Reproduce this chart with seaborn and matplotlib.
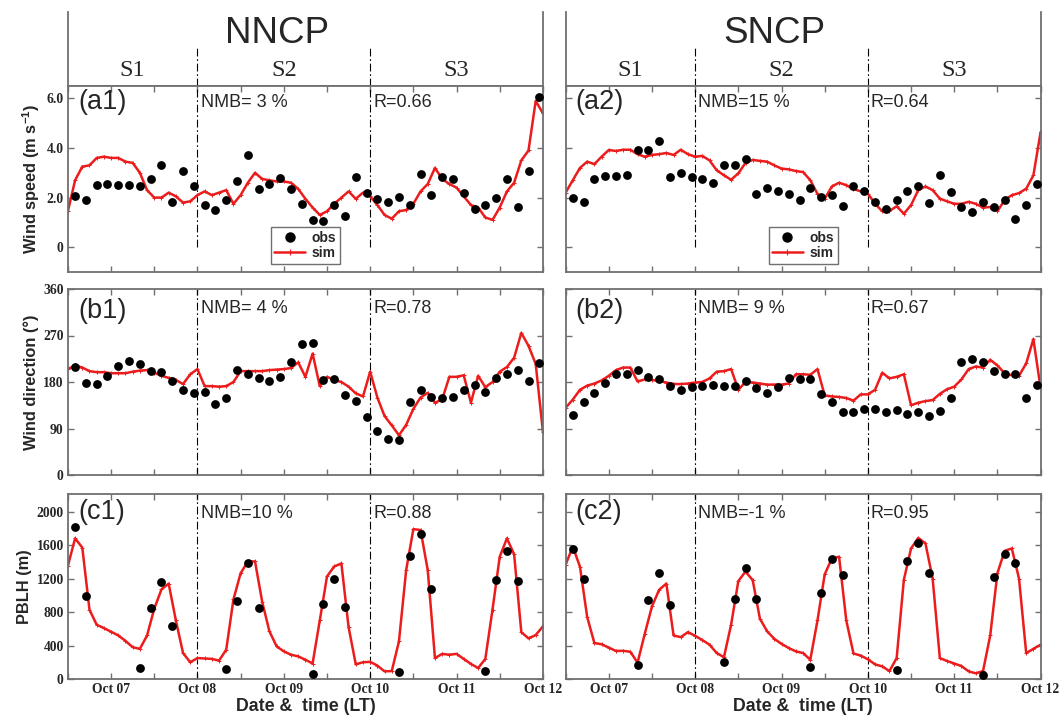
import numpy as np
import pandas as pd
import matplotlib
matplotlib.use("Agg")
import matplotlib.pyplot as plt
from matplotlib.lines import Line2D
import seaborn as sns

# ---------------- data (hours after Oct 06 12:00 LT) ----------------
regions = ["NNCP", "SNCP"]
stage_names = ["S1", "S2", "S3"]
stage_edges = [0, 36, 84, 132]
day_tick_hours = [12, 36, 60, 84, 108, 132]
day_tick_labels = ["Oct 07", "Oct 08", "Oct 09", "Oct 10", "Oct 11", "Oct 12"]

obs_hours = list(range(2, 132, 3))          # 3-hourly observations
sim_hours = list(range(0, 133, 2))          # model output
pblh_obs_hours = [2, 5, 20, 23, 26, 29, 44, 47, 50, 53, 68, 71, 74, 77,
                  92, 95, 98, 101, 116, 119, 122, 125]

ws_ticks = [0, 2, 4, 6]
ws_tick_labels = ["0", "2.0", "4.0", "6.0"]
wd_ticks = [0, 90, 180, 270, 360]
wd_tick_labels = ["0", "90", "180", "270", "360"]
pblh_ticks = [0, 400, 800, 1200, 1600, 2000]
pblh_tick_labels = ["0", "400", "800", "1200", "1600", "2000"]

# wind speed (m/s)
ws_obs_nncp = [2.05, 1.92, 2.49, 2.56, 2.52, 2.52, 2.46, 2.76, 3.32, 1.81, 3.07, 2.45,
               1.71, 1.50, 1.89, 2.68, 3.70, 2.34, 2.53, 2.81, 2.34, 1.74, 1.08, 1.06,
               1.71, 1.27, 2.84, 2.20,
               1.93, 1.82, 2.01, 1.71, 2.95, 2.09, 2.85, 2.76, 2.18, 1.54, 1.71, 1.97,
               2.73, 1.62, 3.07, 6.04]
ws_sim_nncp = [1.45, 2.7, 3.25, 3.3, 3.6, 3.65, 3.6, 3.6, 3.45, 3.4,
               3.0, 2.3, 2.0, 2.0, 2.2, 2.05, 1.8, 1.85, 2.1, 2.25,
               2.1, 2.2, 2.3, 1.75, 2.1, 2.6, 3.0, 2.75, 2.7, 2.65,
               2.65, 2.6, 2.35, 1.95, 1.6, 1.3, 1.45, 1.75, 2.0, 2.25,
               1.95, 2.2, 2.05, 1.7, 1.3, 1.15, 1.45, 1.5, 1.75, 2.25,
               2.55, 3.2, 2.75, 2.55, 2.4, 2.05, 1.7, 1.6, 1.2, 1.1,
               1.6, 2.25, 2.6, 3.5, 3.9, 5.9, 5.4]
ws_obs_sncp = [1.99, 1.83, 2.77, 2.86, 2.86, 2.90, 3.91, 3.91, 4.30, 2.83, 2.99, 2.83,
               2.75, 2.58, 3.30, 3.33, 3.56, 2.16, 2.39, 2.28, 2.13, 1.89, 2.39, 2.03,
               2.09, 1.68, 2.47, 2.28,
               1.81, 1.53, 1.89, 2.25, 2.48, 1.80, 2.90, 2.24, 1.62, 1.41, 1.81, 1.62,
               1.92, 1.14, 1.72, 2.55]
ws_sim_sncp = [2.2, 2.7, 3.2, 3.45, 3.35, 3.65, 3.92, 3.88, 3.93, 3.93,
               3.75, 3.65, 3.72, 3.75, 3.8, 3.72, 3.93, 3.75, 3.65, 3.68,
               3.5, 3.1, 2.9, 2.72, 2.98, 3.4, 3.52, 3.48, 3.45, 3.3,
               3.17, 3.14, 3.07, 3.03, 2.7, 2.15, 1.95, 2.45, 2.6, 2.5,
               2.35, 2.25, 2.16, 1.75, 1.45, 1.46, 1.65, 1.35, 1.7, 2.3,
               2.45, 2.3, 1.96, 1.85, 1.75, 1.75, 1.83, 1.75, 1.6, 1.62,
               1.45, 1.9, 2.1, 2.18, 2.36, 2.9, 4.64]

# wind direction (deg)
wd_obs_nncp = [210, 179, 177, 192, 211, 221, 214, 201, 199, 182, 164, 159,
               161, 138, 149, 203, 196, 187, 182, 190, 219, 253, 255, 183,
               185, 155, 144, 112,
               86, 70, 67, 141, 164, 151, 149, 151, 164, 175, 161, 187,
               195, 203, 182, 216]
wd_sim_nncp = [205, 212, 208, 201, 199, 199, 197, 197, 197, 200,
               202, 203, 198, 192, 188, 184, 176, 195, 205, 172,
               172, 171, 172, 180, 201, 201, 201, 201, 203, 204,
               205, 207, 218, 190, 235, 172, 190, 184, 180, 171,
               158, 152, 200, 150, 114, 96, 77, 97, 128, 150,
               159, 140, 146, 190, 190, 193, 140, 192, 170, 180,
               200, 209, 227, 275, 250, 215, 84]
wd_obs_sncp = [116, 141, 159, 179, 196, 196, 203, 190, 185, 172, 164, 171,
               173, 175, 173, 173, 182, 169, 159, 171, 187, 185, 185, 156,
               142, 122, 122, 127,
               127, 122, 125, 119, 122, 114, 123, 149, 219, 224, 219, 201,
               196, 196, 149, 175]
wd_sim_sncp = [130, 146, 165, 173, 177, 183, 192, 203, 208, 208,
               181, 185, 184, 182, 179, 176, 176, 177, 179, 180,
               187, 200, 201, 205, 165, 180, 179, 177, 175, 175,
               175, 177, 195, 195, 194, 205, 154, 152, 151, 149,
               144, 156, 156, 165, 198, 187, 190, 195, 135, 140,
               143, 145, 157, 166, 171, 185, 205, 210, 208, 223,
               212, 197, 193, 192, 216, 263, 168]

# PBLH (m)
pblh_obs_nncp = [1821, 994, 127, 847, 1157, 636, 119, 926, 1384, 847, 60, 895,
                 1193, 859, 80, 1471, 1734, 1073, 91, 1185, 1535, 1165]
pblh_sim_nncp = [1352, 1680, 1570, 827, 648, 608, 565, 520, 455, 380,
                 360, 520, 840, 1070, 1140, 700, 310, 200, 250, 245,
                 240, 220, 350, 950, 1264, 1403, 1405, 920, 570, 390,
                 330, 290, 270, 230, 185, 700, 1225, 1344, 1380, 620,
                 175, 200, 205, 160, 91, 95, 450, 1300, 1790, 1780,
                 1300, 250, 300, 290, 300, 240, 180, 131, 240, 830,
                 1460, 1680, 1490, 560, 485, 525, 628]
pblh_obs_sncp = [1551, 1193, 171, 938, 1264, 883, 199, 958, 1324, 958, 139, 1026,
                 1435, 1245, 103, 1404, 1622, 1272, 52, 1217, 1495, 1384]
pblh_sim_sncp = [1364, 1582, 1340, 740, 430, 415, 375, 335, 337, 325,
                 195, 540, 867, 1066, 1140, 520, 500, 560, 515, 465,
                 410, 310, 260, 650, 1170, 1284, 1180, 720, 570, 480,
                 420, 370, 330, 310, 230, 700, 1250, 1440, 1460, 700,
                 305, 280, 235, 175, 150, 95, 250, 1185, 1560, 1685,
                 1620, 1200, 250, 215, 185, 155, 91, 68, 95, 520,
                 1264, 1530, 1560, 1200, 310, 360, 410]

panel_tags = [["(a1)", "(b1)", "(c1)"], ["(a2)", "(b2)", "(c2)"]]
nmb_texts = [["NMB= 3 %", "NMB= 4 %", "NMB=10 %"], ["NMB=15 %", "NMB= 9 %", "NMB=-1 %"]]
r_texts = [["R=0.66", "R=0.78", "R=0.88"], ["R=0.64", "R=0.67", "R=0.95"]]

series = {
    "NNCP": [(obs_hours, ws_obs_nncp, ws_sim_nncp),
             (obs_hours, wd_obs_nncp, wd_sim_nncp),
             (pblh_obs_hours, pblh_obs_nncp, pblh_sim_nncp)],
    "SNCP": [(obs_hours, ws_obs_sncp, ws_sim_sncp),
             (obs_hours, wd_obs_sncp, wd_sim_sncp),
             (pblh_obs_hours, pblh_obs_sncp, pblh_sim_sncp)],
}
row_ylims = [(-1.0, 6.5), (0, 360), (0, 2210)]
row_ticks = [(ws_ticks, ws_tick_labels), (wd_ticks, wd_tick_labels),
             (pblh_ticks, pblh_tick_labels)]
row_ylabels = ["Wind speed (m s$^{\\mathbf{-1}}$)", "Wind direction (°)", "PBLH (m)"]

# ---------------- style ----------------
sns.set_theme(style="ticks")
plt.rcParams["font.family"] = ["Liberation Sans", "DejaVu Sans"]
plt.rcParams["mathtext.fontset"] = "custom"
plt.rcParams["mathtext.rm"] = "Liberation Sans"
plt.rcParams["mathtext.bf"] = "Liberation Sans:bold"

RED = "#ec1c1c"
SPINE = "#707070"
SERIF = "Liberation Serif"
DASHDOT = (0, (7, 2.5, 1.5, 2.5))

W, H = 1062, 716
fig = plt.figure(figsize=(W / 100, H / 100), dpi=100)

col_left = [67.9, 565.6]
col_width = 475.0
row_top = [86, 289, 494]
row_bot = [272, 475, 679]
tag_y = [0.874, 0.842, 0.866]
stat_y = [0.885, 0.869, 0.869]
xtick_pos = list(range(0, 133, 12))
label_map = dict(zip(day_tick_hours, day_tick_labels))


def frac_rect(x0, top, w, bot):
    return [x0 / W, 1 - bot / H, w / W, (bot - top) / H]


for c, region in enumerate(regions):
    # header
    axh = fig.add_axes(frac_rect(col_left[c], 12, col_width, 86))
    axh.set_xlim(stage_edges[0], stage_edges[-1])
    axh.set_ylim(0, 1)
    axh.set_xticks([])
    axh.set_yticks([])
    axh.set_facecolor("white")
    for side in ["left", "right", "bottom"]:
        axh.spines[side].set_color(SPINE)
        axh.spines[side].set_linewidth(1.3)
    axh.spines["top"].set_visible(False)
    axh.text(0.44, 0.577, region, transform=axh.transAxes, ha="center",
             va="baseline", fontsize=26.5)
    for i, name in enumerate(stage_names):
        mid = (stage_edges[i] + stage_edges[i + 1]) / 2
        axh.text(mid, 0.135, name, ha="center", va="baseline", fontsize=17.5,
                 family=SERIF)
    axh.vlines(stage_edges[1:3], 0, 0.51, colors="black", linewidth=0.8,
               linestyles=[DASHDOT])

    for r in range(3):
        hrs, obs, sim = series[region][r]
        ax = fig.add_axes(frac_rect(col_left[c], row_top[r], col_width, row_bot[r]))
        df_sim = pd.DataFrame({"hour": sim_hours, "value": sim})
        df_obs = pd.DataFrame({"hour": hrs, "value": obs})
        sns.lineplot(data=df_sim, x="hour", y="value", ax=ax, color=RED,
                     linewidth=1.8, marker="+", markersize=3.5,
                     markeredgewidth=0.7, markeredgecolor=RED, zorder=2)
        sns.scatterplot(data=df_obs, x="hour", y="value", ax=ax, color="black",
                        s=40, linewidth=0, zorder=3)
        ylo, yhi = row_ylims[r]
        ax.vlines(stage_edges[1:3], 0, yhi, colors="black", linewidth=0.8,
                  linestyles=[DASHDOT], zorder=1)
        ax.set_xlim(stage_edges[0], stage_edges[-1])
        ax.set_ylim(ylo, yhi)
        ax.set_xlabel("")
        ax.set_ylabel("")
        for side in ax.spines:
            ax.spines[side].set_color(SPINE)
            ax.spines[side].set_linewidth(1.3)
        ax.tick_params(direction="in", length=4, width=1.0, color=SPINE,
                       top=True, right=True, pad=3)
        ticks, tlabels = row_ticks[r]
        if c == 0:
            ax.set_yticks(ticks, labels=tlabels, family=SERIF,
                          fontweight="bold", fontsize=9.8)
            ax.set_ylabel(row_ylabels[r], fontsize=11.8, fontweight="bold",
                          labelpad=3)
        else:
            ax.set_yticks(ticks, labels=[""] * len(ticks))
        if r == 2:
            ax.set_xticks(xtick_pos, labels=[label_map.get(h, "") for h in xtick_pos],
                          family=SERIF, fontweight="bold", fontsize=9.8)
            ax.set_xlabel("Date &  time (LT)", fontsize=12.8, fontweight="bold",
                          labelpad=1)
        else:
            ax.set_xticks(xtick_pos, labels=[""] * len(xtick_pos))

        ax.text(0.021, tag_y[r], panel_tags[c][r], transform=ax.transAxes,
                ha="left", va="baseline", fontsize=19.5)
        ax.text(stage_edges[1] + 0.9, ylo + stat_y[r] * (yhi - ylo), nmb_texts[c][r],
                ha="left", va="baseline", fontsize=13)
        ax.text(stage_edges[2] + 0.8, ylo + stat_y[r] * (yhi - ylo), r_texts[c][r],
                ha="left", va="baseline", fontsize=13)

        if r == 0:
            handles = [Line2D([], [], marker="o", linestyle="", color="black",
                              markersize=6.5),
                       Line2D([], [], color=RED, linewidth=1.8, marker="+",
                              markersize=4, markeredgewidth=0.8)]
            leg = ax.legend(handles, ["obs", "sim"], loc="lower center",
                            bbox_to_anchor=(0.5, 0.03), frameon=True,
                            fancybox=False, framealpha=1, edgecolor=SPINE,
                            prop={"weight": "bold", "size": 10},
                            handlelength=2.2, handletextpad=0.5,
                            borderpad=0.25, labelspacing=0.1, borderaxespad=0.2)
            leg.get_frame().set_linewidth(1.0)
        else:
            if ax.get_legend() is not None:
                ax.get_legend().remove()

fig.savefig("out.png", dpi=100)
